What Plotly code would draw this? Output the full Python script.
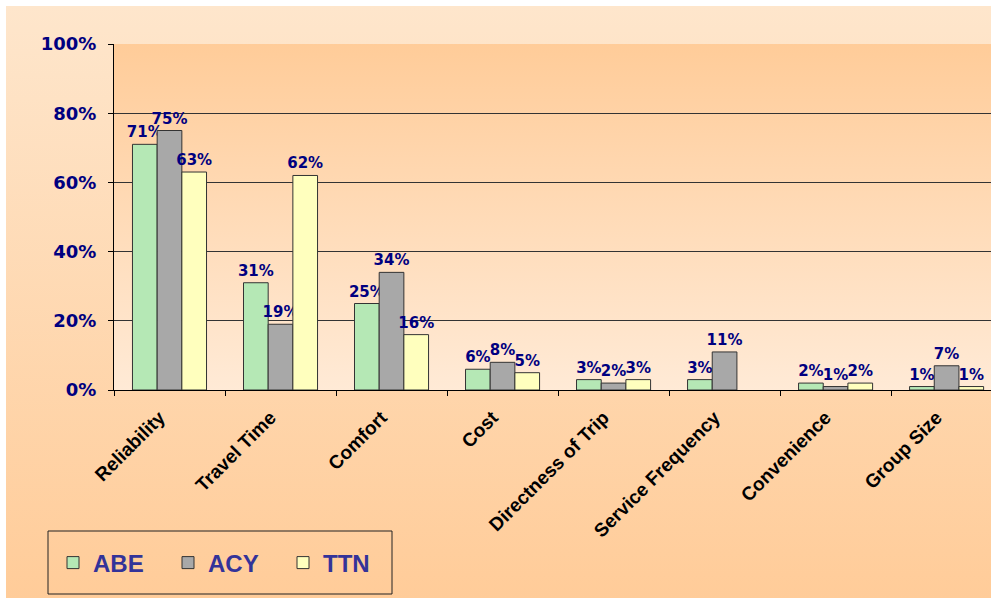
import base64
import plotly.graph_objects as go

categories = ["Reliability", "Travel Time", "Comfort", "Cost", "Directness of Trip",
              "Service Frequency", "Convenience", "Group Size"]
abe = [71, 31, 25, 6, 3, 3, 2, 1]
acy = [75, 19, 34, 8, 2, 11, 1, 7]
ttn = [63, 62, 16, 5, 3, None, 2, 1]
series_names = ["ABE", "ACY", "TTN"]
y_ticks = [0, 20, 40, 60, 80, 100]
y_tick_labels = ["0%", "20%", "40%", "60%", "80%", "100%"]

W, H = 991, 598
L, R, T, B = 114, 991, 44, 390  # plot area pixel bounds


def px_x(p):
    return (p - L) / (R - L)


def px_y(p):
    return (B - p) / (B - T)


def grad_svg(top, bottom):
    svg = ('<svg xmlns="http://www.w3.org/2000/svg" width="100" height="100" '
           'viewBox="0 0 100 100" preserveAspectRatio="none">'
           '<defs><linearGradient id="g" x1="0" y1="0" x2="0" y2="1">'
           f'<stop offset="0" stop-color="{top}"/><stop offset="1" stop-color="{bottom}"/>'
           '</linearGradient></defs><rect width="100" height="100" fill="url(#g)"/></svg>')
    return "data:image/svg+xml;base64," + base64.b64encode(svg.encode()).decode()


colors = ["#B5E8B5", "#A8A8A8", "#FFFFBE"]
fig = go.Figure()
for name, vals, col in zip(series_names, [abe, acy, ttn], colors):
    fig.add_trace(go.Bar(
        name=name, x=categories, y=vals,
        marker=dict(color=col, line=dict(color="#333333", width=1)),
        text=[f"{v}%" if v is not None else "" for v in vals],
        textposition="outside", cliponaxis=False, constraintext="none",
        textfont=dict(family="DejaVu Sans", size=15, color="#000080", weight="bold"),
        hoverinfo="skip",
    ))

fig.update_layout(
    width=W, height=H,
    margin=dict(l=L, r=W - R, t=T, b=H - B, pad=0),
    paper_bgcolor="white",
    plot_bgcolor="rgba(0,0,0,0)",
    barmode="group", bargap=0.333, bargroupgap=0,
    showlegend=True,
    legend=dict(orientation="h", xref="container", yref="container",
                x=53 / W, y=1 - 563 / H, xanchor="left", yanchor="middle",
                font=dict(family="Liberation Sans", size=24, color="#333399", weight="bold"),
                bgcolor="rgba(0,0,0,0)", borderwidth=0,
                entrywidth=70, entrywidthmode="pixels", itemwidth=30),
    images=[
        dict(source=grad_svg("#FEE6CC", "#FFCC99"), xref="paper", yref="paper",
             x=px_x(6), y=px_y(6), sizex=px_x(W) - px_x(6), sizey=px_y(6) - px_y(H),
             sizing="stretch", xanchor="left", yanchor="top", layer="below"),
        dict(source=grad_svg("#FFCC99", "#FFEAD6"), xref="paper", yref="paper",
             x=0, y=1, sizex=1, sizey=1,
             sizing="stretch", xanchor="left", yanchor="top", layer="below"),
    ],
    shapes=[
        dict(type="rect", xref="paper", yref="paper",
             x0=px_x(48), x1=px_x(392), y0=px_y(594), y1=px_y(531),
             line=dict(color="#222222", width=1), fillcolor="rgba(0,0,0,0)"),
    ],
)

fig.update_xaxes(
    range=[-0.5, 7.4], showline=True, linecolor="black", linewidth=1,
    ticks="outside", tickson="boundaries", ticklen=5, tickcolor="black",
    tickangle=-45, showgrid=False,
    tickfont=dict(family="Liberation Sans", size=19, color="black", weight="bold"),
    ticklabelshift=-10, ticklabelstandoff=8,
)
fig.update_yaxes(
    range=[0, 100], tickvals=y_ticks, ticktext=y_tick_labels,
    showline=True, linecolor="black", linewidth=1,
    ticks="outside", ticklen=5, tickcolor="black",
    showgrid=True, gridcolor="#333333", gridwidth=1, zeroline=False,
    tickfont=dict(family="DejaVu Sans", size=18, color="#000080", weight="bold"),
    ticklabelstandoff=8,
)

fig.write_html("out.html", config={"displayModeBar": False},
               post_script="document.body.style.margin='0px';")
